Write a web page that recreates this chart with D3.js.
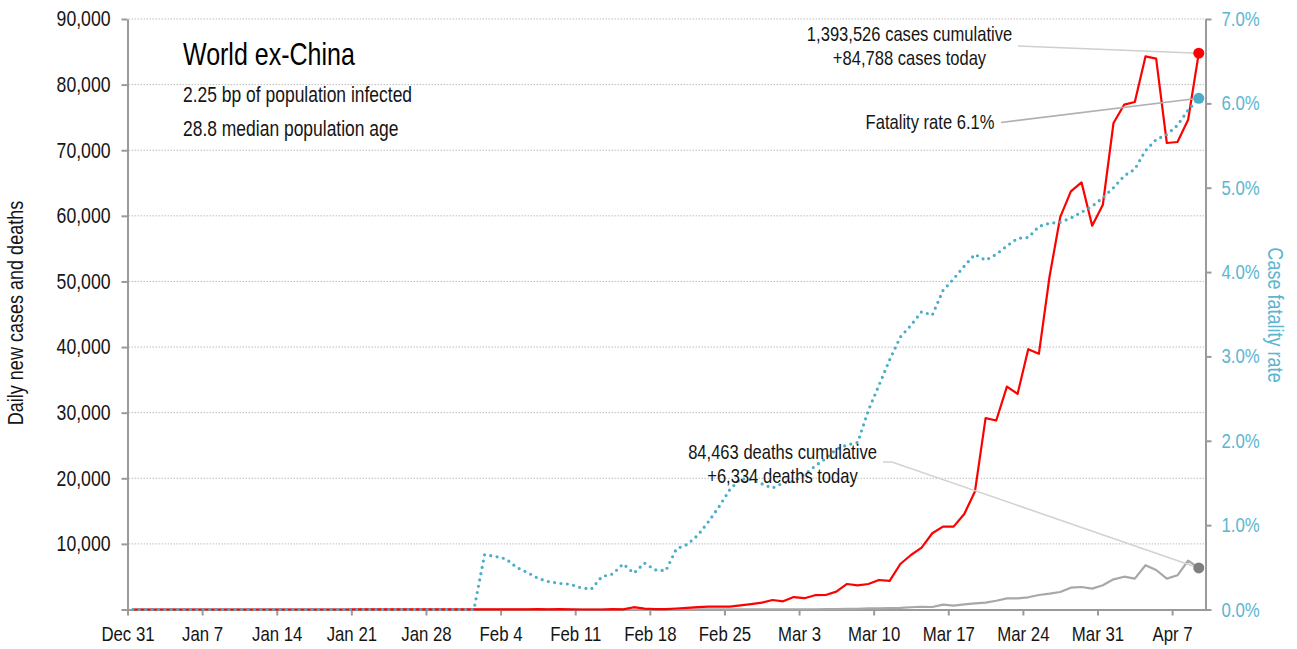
<!DOCTYPE html>
<html>
<head>
<meta charset="utf-8">
<script src="https://cdn.jsdelivr.net/npm/d3@7"></script>
<style>
  html, body { margin: 0; padding: 0; background: #fff; }
  svg { display: block; }
  text { font-family: "Liberation Sans", Arial, sans-serif; }
</style>
</head>
<body>
<svg id="chart" width="1297" height="649"></svg>
<script>
// ---------------- DATA ----------------
const startDate = "2019-12-31";
const endDate = "2020-04-10"; // exclusive: last day is Apr 9

// Daily new cases, world ex-China (Dec 31 .. Apr 9)
const cases = [
  0,0,0,0,0,0,0,0,0,0,
  0,0,0,1,0,1,0,1,0,1,
  3,4,7,4,14,7,10,18,12,19,
  21,31,25,21,27,15,33,27,53,18,
  42,10,2,3,2,57,10,350,120,62,
  60,150,250,350,430,430,450,620,820,1040,
  1450,1250,1900,1720,2180,2210,2720,3890,3690,3890,
  4500,4350,6940,8310,9430,11620,12630,12630,14560,17970,
  29160,28800,33980,32860,39680,38970,50750,59800,63720,65100,
  58490,61690,74150,76940,77350,84300,83950,71100,71250,74650,
  84788
];

// Daily new deaths, world ex-China
const deaths = [
  0,0,0,0,0,0,0,0,0,0,
  0,0,0,0,0,0,0,0,0,0,
  0,0,0,0,0,0,0,0,0,0,
  0,0,0,1,0,0,0,0,0,0,
  0,0,0,0,0,1,0,1,0,1,
  2,2,4,5,7,11,12,13,20,18,
  22,19,20,30,40,50,70,90,110,190,
  180,220,260,340,420,380,735,580,790,945,
  1040,1340,1700,1700,1860,2210,2410,2670,3330,3430,
  3180,3690,4600,5000,4700,6740,6020,4700,5210,7440,
  6334
];

// Cumulative case fatality rate, % (right axis)
const fatalityRate = [
  0,0,0,0,0,0,0,0,0,0,
  0,0,0,0,0,0,0,0,0,0,
  0,0,0,0,0,0,0,0,0,0,
  0,0,0,0.65,0.63,0.60,0.50,0.44,0.37,0.33,
  0.31,0.30,0.26,0.24,0.39,0.42,0.54,0.43,0.55,0.47,
  0.46,0.72,0.77,0.88,1.04,1.22,1.42,1.55,1.54,1.49,
  1.44,1.50,1.52,1.60,1.70,1.79,1.90,1.95,1.98,2.36,
  2.66,2.96,3.23,3.37,3.53,3.49,3.78,3.92,4.07,4.21,
  4.14,4.21,4.31,4.40,4.41,4.54,4.58,4.59,4.64,4.71,
  4.78,4.88,5.00,5.14,5.22,5.44,5.57,5.63,5.74,5.92,
  6.06
];

const xTickDates = ["2019-12-31","2020-01-07","2020-01-14","2020-01-21","2020-01-28",
  "2020-02-04","2020-02-11","2020-02-18","2020-02-25","2020-03-03","2020-03-10",
  "2020-03-17","2020-03-24","2020-03-31","2020-04-07"];
const leftTicks = [0,10000,20000,30000,40000,50000,60000,70000,80000,90000];
const rightTicks = [0,1,2,3,4,5,6,7];

const titleText = "World ex-China";
const subtitleLines = ["2.25 bp of population infected", "28.8 median population age"];
const casesNote = ["1,393,526 cases cumulative", "+84,788 cases today"];
const deathsNote = ["84,463 deaths cumulative", "+6,334 deaths today"];
const fatalityNote = "Fatality rate 6.1%";
const leftAxisTitle = "Daily new cases and deaths";
const rightAxisTitle = "Case fatality rate";

// ---------------- CHART ----------------
(function () {
const parse = d3.utcParse("%Y-%m-%d");
const dates = d3.utcDay.range(parse(startDate), parse(endDate));
const rows = dates.map((d, i) => ({
  date: d, t: d3.utcHour.offset(d, 12),
  cases: cases[i], deaths: deaths[i], cfr: fatalityRate[i]
}));

const svg = d3.select("#chart");
const pLeft = 127.5, pRight = 1205.5, pTop = 19, pBottom = 609.5;
const x0 = parse(startDate);
const x = d3.scaleUtc()
  .domain([x0, new Date(x0.getTime() + 101.13 * 864e5)])
  .range([pLeft, pRight]);
const yL = d3.scaleLinear().domain([0, 90000]).range([pBottom, pTop]);
const yR = d3.scaleLinear().domain([0, 7]).range([pBottom, pTop]);

const CYAN = "#4badc7";
const CYAN_TXT = "#5cb6d0";
const GRID = "#bdbdbd";
const AXIS = "#9a9a9a";
const NARROW = 0.82;

// condensed look: horizontally scale each text element
function narrow(sel, rot) {
  sel.each(function () {
    const t = d3.select(this);
    const tx = +t.attr("x") || 0, ty = +t.attr("y") || 0;
    t.attr("x", 0).attr("y", 0)
     .attr("transform", `translate(${tx},${ty})${rot ? ` rotate(${rot})` : ""} scale(${NARROW},1)`);
  });
}
function addText(px, py, str, size, anchor, fill, rot) {
  const t = svg.append("text").attr("x", px).attr("y", py)
    .attr("font-size", size).attr("text-anchor", anchor || "start")
    .attr("fill", fill || "#151515").text(str);
  narrow(t, rot);
  return t;
}

// gridlines
svg.append("g").selectAll("line")
  .data(leftTicks.filter(d => d > 0))
  .join("line")
  .attr("x1", pLeft + 1).attr("x2", pRight - 1)
  .attr("y1", d => yL(d)).attr("y2", d => yL(d))
  .attr("stroke", GRID).attr("stroke-width", 1)
  .attr("stroke-dasharray", "1.5,1.5");

// axes
const axL = svg.append("g").attr("transform", `translate(${pLeft},0)`)
  .call(d3.axisLeft(yL).tickValues(leftTicks).tickSize(6).tickSizeOuter(0).tickPadding(11)
    .tickFormat(d => d === 0 ? "" : d3.format(",")(d)));
const axR = svg.append("g").attr("transform", `translate(${pRight},0)`)
  .call(d3.axisRight(yR).tickValues(rightTicks).tickSize(6).tickSizeOuter(0).tickPadding(10)
    .tickFormat(d => d3.format(".1f")(d) + "%"));
const axB = svg.append("g").attr("transform", `translate(0,${pBottom})`)
  .call(d3.axisBottom(x).tickValues(xTickDates.map(parse)).tickSize(6).tickSizeOuter(0).tickPadding(11)
    .tickFormat(d3.utcFormat("%b %-d")));

[axL, axR, axB].forEach(g => {
  g.attr("font-family", null);
  g.select(".domain").attr("stroke", AXIS).attr("stroke-width", 2);
  g.selectAll(".tick line").attr("stroke", AXIS).attr("stroke-width", 2);
  g.selectAll(".tick text").attr("font-size", 20.5).attr("fill", "#151515");
});
axL.selectAll(".tick text").attr("font-size", 21.5);
axR.selectAll(".tick text").attr("fill", CYAN_TXT);
narrow(axL.selectAll(".tick text"));
narrow(axR.selectAll(".tick text"));
narrow(axB.selectAll(".tick text"));

// axis titles
addText(23, 313, leftAxisTitle, 22, "middle", "#151515", -90);
addText(1268, 315, rightAxisTitle, 22, "middle", CYAN_TXT, 90);

// series
const lineCases = d3.line().x(d => x(d.t)).y(d => yL(d.cases));
const lineDeaths = d3.line().x(d => x(d.t)).y(d => yL(d.deaths));
const lineCfr = d3.line().x(d => x(d.t)).y(d => yR(d.cfr));

svg.append("path").datum(rows).attr("d", lineDeaths)
  .attr("fill", "none").attr("stroke", "#a8a8a8").attr("stroke-width", 2.2)
  .attr("stroke-linejoin", "round");
svg.append("path").datum(rows).attr("d", lineCases)
  .attr("fill", "none").attr("stroke", "#ff0000").attr("stroke-width", 2.2)
  .attr("stroke-linejoin", "round");
svg.append("path").datum(rows).attr("d", lineCfr)
  .attr("fill", "none").attr("stroke", CYAN).attr("stroke-width", 3.2)
  .attr("stroke-linecap", "round").attr("stroke-dasharray", "0,6.4");

// annotations
const last = rows[rows.length - 1];
const lx = x(last.t);

svg.append("polyline")
  .attr("points", `1018,46 ${lx},${yL(last.cases)}`)
  .attr("fill", "none").attr("stroke", "#cfcfcf").attr("stroke-width", 1.6);
svg.append("polyline")
  .attr("points", `1001,122.5 ${lx},${yR(last.cfr)}`)
  .attr("fill", "none").attr("stroke", "#b0b0b0").attr("stroke-width", 1.6);
svg.append("polyline")
  .attr("points", `883,462 892,462 ${lx},${yL(last.deaths)}`)
  .attr("fill", "none").attr("stroke", "#d2d2d2").attr("stroke-width", 1.6);

svg.append("circle").attr("cx", lx).attr("cy", yL(last.cases)).attr("r", 5.5).attr("fill", "#ff0000");
svg.append("circle").attr("cx", lx).attr("cy", yR(last.cfr)).attr("r", 5.5).attr("fill", CYAN);
svg.append("circle").attr("cx", lx).attr("cy", yL(last.deaths)).attr("r", 5.5).attr("fill", "#7f7f7f");

// texts
addText(183, 65, titleText, 30.5, "start", "#000");
addText(183, 101.5, subtitleLines[0], 21.3);
addText(183, 136, subtitleLines[1], 21.3);
casesNote.forEach((s, i) => addText(909.5, 40.5 + i * 24, s, 20.2, "middle"));
deathsNote.forEach((s, i) => addText(782.5, 458.5 + i * 24.5, s, 20.2, "middle"));
addText(994.5, 128.5, fatalityNote, 20.2, "end");
})();
</script>
</body>
</html>
